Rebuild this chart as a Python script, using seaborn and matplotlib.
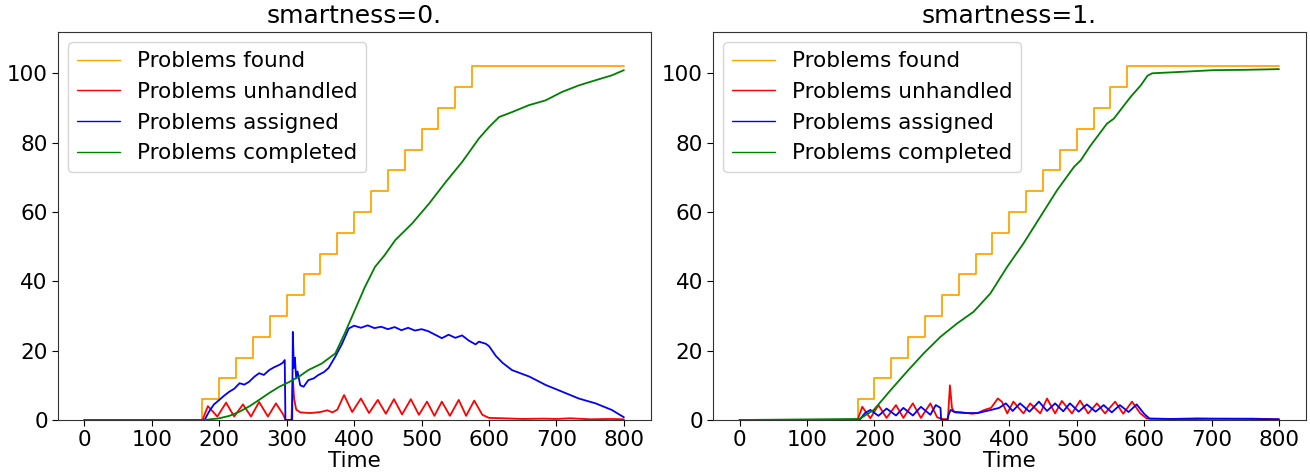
import matplotlib
matplotlib.use("Agg")
import matplotlib.pyplot as plt
import seaborn as sns

# step curve of problems found (same in both runs)
found_time = [0, 175, 200, 225, 250, 275, 300, 325, 350, 375, 400, 425,
              450, 475, 500, 525, 550, 575, 800]
found_count = [0, 6, 12, 18, 24, 30, 36, 42, 48, 54, 60, 66,
               72, 78, 84, 90, 96, 102, 102]

# smartness = 0
s0_unhandled_t = [0, 175, 183, 197, 210, 222, 235, 247, 259, 272, 284, 295, 298,
                  307, 309, 311, 314, 320, 335, 350, 360, 368, 375, 385, 397, 410,
                  422, 435, 447, 459, 471, 484, 496, 508, 519, 530, 542, 555, 566,
                  578, 590, 600, 620, 650, 680, 700, 720, 750, 780, 800]
s0_unhandled = [0, 0, 4.0, 1.0, 5.0, 1.0, 4.5, 1.0, 5.2, 1.0, 4.8, 1.5, 0,
                0, 12, 6, 3, 2.2, 2.0, 2.3, 2.8, 2.2, 3.0, 7.2, 2.3, 6.2,
                2.0, 5.8, 1.8, 6.0, 1.6, 6.0, 1.5, 5.3, 1.2, 5.3, 1.2, 5.8, 1.2,
                5.6, 1.5, 0.6, 0.5, 0.3, 0.4, 0.3, 0.5, 0.2, 0.3, 0.2]

s0_assigned_t = [0, 178, 185, 192, 200, 207, 215, 222, 230, 237, 244, 252, 259,
                 266, 274, 281, 289, 294, 297, 298, 308, 309, 310.5, 312, 314,
                 316, 320, 325, 332, 340, 347, 355, 362, 372, 382, 392, 400, 410,
                 420, 430, 440, 450, 460, 470, 480, 490, 500, 510, 520, 530, 540,
                 550, 560, 570, 580, 585, 595, 600, 610, 620, 634, 660, 684, 708,
                 733, 758, 782, 800]
s0_assigned = [0, 0, 2.5, 4.5, 5.8, 7.0, 8.2, 9.0, 10.6, 10.2, 11.0, 12.5, 13.5,
               13.0, 14.4, 15.2, 15.9, 16.5, 17.3, 0, 0, 25.4, 15, 18, 12,
               14, 10, 9.6, 11.5, 12.0, 13.0, 13.8, 15.0, 18.3, 22.0, 26.4, 27.2, 26.6,
               27.3, 26.5, 26.9, 26.2, 26.8, 25.9, 26.6, 25.8, 26.2, 25.6, 24.6, 23.6, 24.6,
               23.7, 24.4, 22.9, 21.8, 22.6, 22.0, 21.3, 18.5, 16.5, 14.4, 12.5, 10.1, 8.2,
               6.2, 4.8, 2.9, 0.8]

s0_completed_t = [0, 178, 200, 215, 230, 245, 259, 274, 289, 304, 318, 332, 352,
                  372, 386, 401, 416, 431, 445, 461, 486, 511, 536, 560, 585, 600,
                  615, 634, 659, 684, 708, 733, 758, 782, 800]
s0_completed = [0, 0, 0.5, 1.2, 2.4, 4.0, 5.8, 7.8, 9.6, 11.0, 12.5, 14.4, 16.3,
                19.2, 25.0, 31.7, 38.4, 44.2, 47.5, 51.9, 56.7, 62.4, 68.7, 74.4, 81.2, 84.5,
                87.4, 88.8, 90.8, 92.2, 94.6, 96.5, 98.0, 99.4, 100.9]

# smartness = 1
s1_unhandled_t = [0, 175, 182, 194, 206, 218, 232, 243, 257, 269, 283, 293, 300,
                  309, 312, 315, 318, 330, 345, 353, 363, 373, 383, 389, 397, 406,
                  421, 431, 446, 456, 468, 478, 493, 505, 517, 530, 542, 557, 569,
                  582, 594, 604, 640, 680, 720, 760, 800]
s1_unhandled = [0, 0, 3.8, 0.5, 4.3, 0.6, 4.3, 0.6, 4.8, 0.6, 4.8, 0.8, 0.3,
                0.2, 10, 3.5, 2.4, 2.2, 1.8, 2.0, 2.9, 3.5, 6.2, 5.3, 1.9, 5.3,
                1.9, 4.8, 1.9, 6.2, 1.9, 5.5, 1.9, 5.6, 1.9, 4.8, 1.9, 5.3, 1.8,
                5.3, 2.0, 0.4, 0.3, 0.5, 0.3, 0.4, 0.2]

s1_assigned_t = [0, 178, 186, 194, 206, 218, 232, 243, 257, 269, 283, 291, 298,
                 299, 308, 310, 313, 320, 335, 353, 373, 385, 395, 405, 416, 430,
                 444, 456, 468, 480, 490, 503, 515, 528, 540, 552, 564, 577, 589,
                 600, 608, 640, 680, 720, 760, 800]
s1_assigned = [0, 0, 2.0, 2.9, 1.2, 3.3, 1.3, 3.5, 1.3, 3.8, 1.5, 4.3, 3.5,
               0, 0, 1.5, 2.9, 2.2, 2.0, 2.0, 2.9, 3.5, 4.8, 2.6, 4.8, 2.4,
               5.3, 2.6, 4.8, 2.5, 4.8, 2.4, 4.5, 2.4, 4.3, 2.2, 4.3, 2.3, 4.5,
               1.8, 0.4, 0.3, 0.3, 0.4, 0.3, 0.2]

s1_completed_t = [0, 178, 199, 224, 248, 273, 298, 323, 347, 372, 397, 421, 446,
                  471, 496, 506, 520, 530, 545, 555, 580, 595, 605, 612, 654, 703,
                  750, 800]
s1_completed = [0, 0.3, 2.9, 8.6, 13.9, 19.2, 24.0, 27.9, 31.2, 36.5, 44.2, 50.9, 58.6,
                66.3, 73.0, 74.9, 79.0, 81.6, 85.5, 86.9, 93.2, 96.5, 99.3, 100.0, 100.4, 100.9,
                101.0, 101.2]

runs = [
    ("smartness=0.", s0_unhandled_t, s0_unhandled, s0_assigned_t, s0_assigned,
     s0_completed_t, s0_completed),
    ("smartness=1.", s1_unhandled_t, s1_unhandled, s1_assigned_t, s1_assigned,
     s1_completed_t, s1_completed),
]

sns.set_style("ticks")
plt.rcParams["font.family"] = ["DejaVu Sans"]
plt.rcParams["font.size"] = 15.5
plt.rcParams["text.color"] = "black"
plt.rcParams["xtick.color"] = "black"
plt.rcParams["ytick.color"] = "black"
plt.rcParams["axes.labelcolor"] = "black"

fig, axes = plt.subplots(1, 2, figsize=(13.1, 4.75), dpi=100)
fig.subplots_adjust(left=0.0439, right=0.9969, bottom=0.1158, top=0.9333, wspace=0.104)

lw = 1.3
for ax, (title, ut, u, at, a, ct, c) in zip(axes, runs):
    sns.lineplot(x=found_time, y=found_count, color="orange", lw=lw,
                 drawstyle="steps-post", label="Problems found", ax=ax)
    sns.lineplot(x=ut, y=u, color="red", lw=lw, estimator=None,
                 label="Problems unhandled", ax=ax)
    sns.lineplot(x=at, y=a, color="blue", lw=lw, estimator=None,
                 label="Problems assigned", ax=ax)
    sns.lineplot(x=ct, y=c, color="green", lw=lw, estimator=None,
                 label="Problems completed", ax=ax)

    ax.set_xlim(-40, 840)
    ax.set_ylim(0, 112)
    ax.set_xticks(range(0, 801, 100))
    ax.set_yticks(range(0, 101, 20))
    ax.tick_params(labelsize=15.5, color="black", length=4, pad=3)
    for sp in ax.spines.values():
        sp.set_color("#333333")
    ax.set_xlabel("Time", fontsize=15.5, labelpad=1)
    ax.set_ylabel("")
    ax.set_title(title, fontsize=18, pad=6)
    leg = ax.legend(loc="upper left", fontsize=15.5, frameon=True)
    for line in leg.get_lines():
        line.set_linewidth(1.0)

fig.savefig("out.png", dpi=100)
plt.close(fig)
